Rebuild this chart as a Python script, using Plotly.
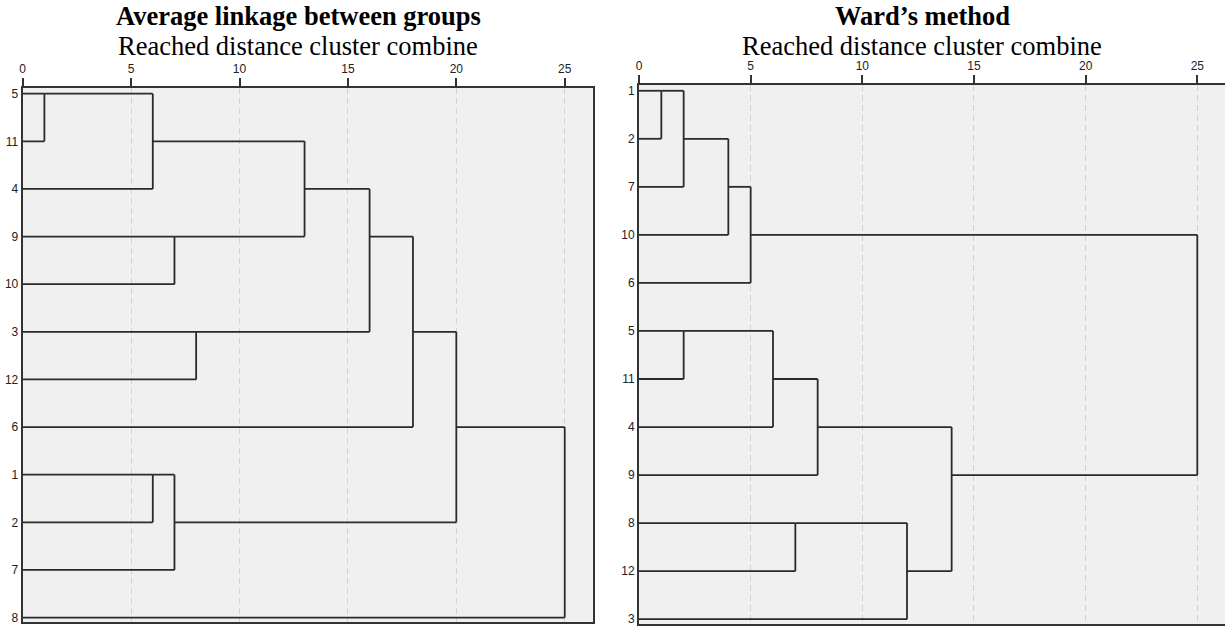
import math
import plotly.graph_objects as go

# ---------------- data ----------------
left_labels = ["5", "11", "4", "9", "10", "3", "12", "6", "1", "2", "7", "8"]
left_merge_a = ["5", "1", "c0", "9", "c1", "3", "c2", "c6", "c7", "c8", "c9"]
left_merge_b = ["11", "2", "4", "10", "7", "12", "c3", "c5", "6", "c4", "8"]
left_merge_dist = [1, 6, 6, 7, 7, 8, 13, 16, 18, 20, 25]

right_labels = ["1", "2", "7", "10", "6", "5", "11", "4", "9", "8", "12", "3"]
right_merge_a = ["1", "c0", "5", "c1", "c3", "c2", "8", "c5", "c6", "c7", "c4"]
right_merge_b = ["2", "7", "11", "10", "6", "4", "12", "9", "3", "c8", "c9"]
right_merge_dist = [1, 2, 2, 4, 5, 6, 7, 8, 12, 14, 25]

x_ticks = [0, 5, 10, 15, 20, 25]

left_title = "Average linkage between groups"
right_title = "Ward\u2019s method"
subtitle = "Reached distance cluster combine"


def dendro_segments(labels, ma, mb, md):
    nodes = {lab: (0.0, i) for i, lab in enumerate(labels)}
    xs, ys = [], []
    for k, (a, b, d) in enumerate(zip(ma, mb, md)):
        ax, ay = nodes[a]
        bx, by = nodes[b]
        xs += [ax, d, None, bx, d, None, d, d, None]
        ys += [ay, ay, None, by, by, None, ay, by, None]
        nodes["c%d" % k] = (d, math.floor((ay + by) / 2))
    return xs, ys


fig = go.Figure()
lx, ly = dendro_segments(left_labels, left_merge_a, left_merge_b, left_merge_dist)
rx, ry = dendro_segments(right_labels, right_merge_a, right_merge_b, right_merge_dist)

line_style = dict(color="#2a2a2a", width=1.8)
fig.add_trace(go.Scatter(x=lx, y=ly, mode="lines", line=line_style,
                         xaxis="x", yaxis="y", hoverinfo="skip", showlegend=False))
fig.add_trace(go.Scatter(x=rx, y=ry, mode="lines", line=line_style,
                         xaxis="x2", yaxis="y2", hoverinfo="skip", showlegend=False))

W, H = 1225, 626

tick_font = dict(family="Liberation Sans", size=12, color="#222222")
xaxis_common = dict(
    side="top", tickvals=x_ticks, ticktext=[str(t) for t in x_ticks],
    ticks="outside", ticklen=8, tickwidth=2, tickcolor="#333333",
    showline=True, linecolor="#333333", linewidth=2, mirror=True,
    showgrid=True, gridcolor="#d2d2d2", gridwidth=1, griddash="6px,4px",
    zeroline=False, tickfont=tick_font, ticklabeloverflow="allow",
    fixedrange=True,
)
yaxis_common = dict(
    autorange=False, tickmode="array", tickvals=list(range(12)),
    ticks="", showline=True, linecolor="#333333", linewidth=2, mirror=True,
    showgrid=False, zeroline=False, ticklabeloverflow="allow",
    tickfont=tick_font,
    fixedrange=True,
)

fig.update_layout(
    template="none",
    width=W, height=H,
    margin=dict(l=0, r=0, t=0, b=0),
    paper_bgcolor="white", plot_bgcolor="#f0f0f0",
    showlegend=False,
    xaxis=dict(xaxis_common, domain=[22.7 / W, 592.7 / W], range=[0, 26.29], anchor="y"),
    yaxis=dict(yaxis_common, domain=[1 - 622.3 / H, 1 - 88 / H], range=[11.1, -0.12],
               ticktext=left_labels, anchor="x"),
    xaxis2=dict(xaxis_common, domain=[639 / W, 1.0], range=[0, 26.24], anchor="y2"),
    yaxis2=dict(yaxis_common, domain=[1 - 624 / H, 1 - 85 / H], range=[11.1, -0.12],
                ticktext=right_labels, anchor="x2"),
)

title_font = dict(family="Liberation Serif", size=26.5, color="black")
sub_font = dict(family="Liberation Serif", size=26.5, color="black")
for cx, t in [(298, left_title), (922, right_title)]:
    fig.add_annotation(x=cx / W, y=1 - 16 / H, xref="paper", yref="paper",
                       text="<b>%s</b>" % t, showarrow=False, font=title_font,
                       xanchor="center", yanchor="middle")
    fig.add_annotation(x=cx / W, y=1 - 46 / H, xref="paper", yref="paper",
                       text=subtitle, showarrow=False, font=sub_font,
                       xanchor="center", yanchor="middle")

fig.write_html("out.html")
